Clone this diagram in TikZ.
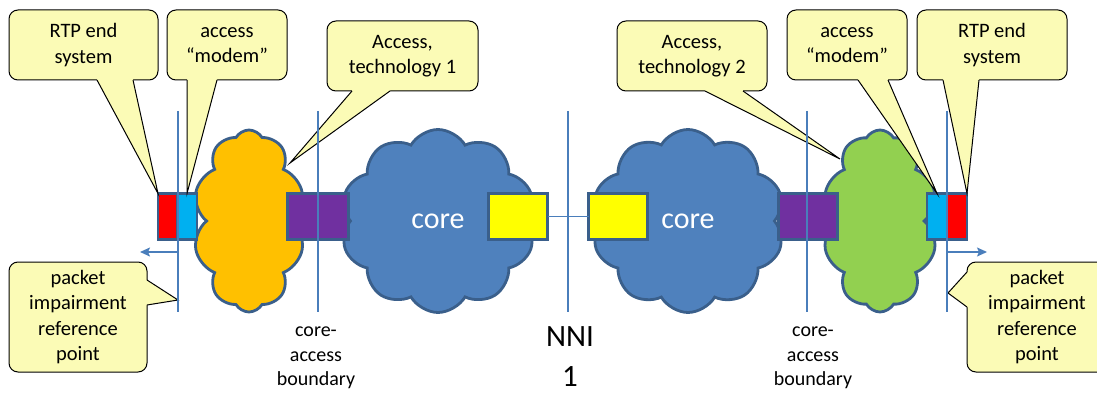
\documentclass[tikz,border=0pt]{standalone}
\usepackage{fontspec}
\setmainfont{Carlito}
\usetikzlibrary{shapes.symbols,arrows.meta,calc}

\definecolor{callfill}{HTML}{FBFBB6}
\definecolor{edgeblue}{HTML}{3A5F8B}
\definecolor{lineblue}{HTML}{4A7EBB}
\definecolor{coreblue}{HTML}{4F81BD}
\definecolor{accorange}{HTML}{FFC000}
\definecolor{accgreen}{HTML}{92D050}
\definecolor{rtpred}{HTML}{FF0000}
\definecolor{modemcyan}{HTML}{00B0F0}
\definecolor{edgepurple}{HTML}{7030A0}
\definecolor{nniyellow}{HTML}{FFFF00}

\tikzset{
  bubble/.style={draw=black, fill=callfill, line width=1pt, rounded corners=9pt,
    outer sep=0pt, inner sep=0pt, align=center, font=\fontsize{20.5}{25.5}\selectfont},
  tailline/.style={black, line width=1pt},
  net/.style={cloud, cloud puffs=10, cloud puff arc=120, cloud ignores aspect,
    draw=edgeblue, line width=2.8pt, inner sep=0pt, outer sep=0pt},
  port/.style={draw=edgeblue, line width=2.8pt, minimum height=46pt, inner sep=0pt, outer sep=0pt},
  refline/.style={lineblue, line width=1.6pt},
  lbl/.style={align=center, inner sep=0pt},
}

% callout tail: base a, base b, tip, inward shift
\newcommand{\tail}[4]{%
  \fill[callfill] ($#1+#4$) -- #1 -- #3 -- #2 -- ($#2+#4$) -- cycle;
  \draw[tailline] #1 -- #3 -- #2;}

\begin{document}
\begin{tikzpicture}[x=1pt, y=-1pt]
  \clip (0,0) rectangle (1097,393);

  % clouds
  \node[net, fill=accorange, minimum width=112pt, minimum height=182pt] (acc1) at (249,221) {};
  \node[net, fill=coreblue, minimum width=195pt, minimum height=183pt, text=white,
    font=\fontsize{30}{36}\selectfont] (core1) at (438,221) {core};
  \node[net, fill=coreblue, minimum width=193pt, minimum height=183pt, text=white,
    font=\fontsize{30}{36}\selectfont] (core2) at (688,221) {core};
  \node[net, fill=accgreen, minimum width=115pt, minimum height=182pt] (acc2) at (880,221) {};

  % boxes
  \node[port, fill=rtpred, minimum width=19pt] (rtpboxL) at (167.5,216.5) {};
  \node[port, fill=modemcyan, minimum width=20pt] (modemboxL) at (187,216.5) {};
  \node[port, fill=edgepurple, minimum width=61pt] (edgeboxL) at (318,216.5) {};
  \node[port, fill=nniyellow, minimum width=59pt] (nniboxL) at (518,216.5) {};
  \node[port, fill=nniyellow, minimum width=59pt] (nniboxR) at (618,216.5) {};
  \node[port, fill=edgepurple, minimum width=59pt] (edgeboxR) at (808,216.5) {};
  \node[port, fill=modemcyan, minimum width=20pt] (modemboxR) at (937,216.5) {};
  \node[port, fill=rtpred, minimum width=20pt] (rtpboxR) at (957,216.5) {};
  \draw[refline] (nniboxL.east) -- (nniboxR.west);

  % callouts
  \node[bubble, minimum width=149pt, minimum height=70pt] (rtpL) at (83.5,45) {RTP end\\system};
  \node[bubble, minimum width=120pt, minimum height=70pt] (modemL) at (227,45) {access\\“modem”};
  \node[bubble, minimum width=151pt, minimum height=70pt] (techL) at (402.5,56) {Access,\\technology 1};
  \node[bubble, minimum width=138pt, minimum height=110pt] (pirL) at (78,317) {packet\\impairment\\reference\\point};
  \node[bubble, minimum width=150pt, minimum height=70pt] (techR) at (692,56) {Access,\\technology 2};
  \node[bubble, minimum width=120pt, minimum height=70pt] (modemR) at (847,45) {access\\“modem”};
  \node[bubble, minimum width=150pt, minimum height=70pt] (rtpR) at (992,45) {RTP end\\system};
  \node[bubble, minimum width=140pt, minimum height=110pt] (pirR) at (1037,317) {packet\\impairment\\reference\\point};

  \coordinate (rtpLa) at ([xshift=88pt]rtpL.south west);
  \coordinate (rtpLb) at ([xshift=124pt]rtpL.south west);
  \coordinate (modemLa) at ([xshift=20pt]modemL.south west);
  \coordinate (modemLb) at ([xshift=50pt]modemL.south west);
  \coordinate (techLa) at ([xshift=25pt]techL.south west);
  \coordinate (techLb) at ([xshift=63pt]techL.south west);
  \coordinate (techLtip) at (290,163);
  \coordinate (pirLa) at ([yshift=-18pt]pirL.north east);
  \coordinate (pirLb) at ([yshift=-43pt]pirL.north east);
  \coordinate (pirLtip) at (178,300);
  \coordinate (techRa) at ([xshift=88pt]techR.south west);
  \coordinate (techRb) at ([xshift=126pt]techR.south west);
  \coordinate (techRtip) at (840,159);
  \coordinate (modemRa) at ([xshift=71pt]modemR.south west);
  \coordinate (modemRb) at ([xshift=101pt]modemR.south west);
  \coordinate (rtpRa) at ([xshift=26pt]rtpR.south west);
  \coordinate (rtpRb) at ([xshift=62pt]rtpR.south west);
  \coordinate (pirRa) at ([yshift=-10pt]pirR.north west);
  \coordinate (pirRb) at ([yshift=-45pt]pirR.north west);
  \coordinate (pirRtip) at (948,293);

  \tail{(rtpLa)}{(rtpLb)}{(rtpboxL.north west)}{(0,-2)}
  \tail{(modemLa)}{(modemLb)}{(modemboxL.north)}{(0,-2)}
  \tail{(techLa)}{(techLb)}{(techLtip)}{(0,-2)}
  \tail{(pirLa)}{(pirLb)}{(pirLtip)}{(-2,0)}
  \tail{(techRa)}{(techRb)}{(techRtip)}{(0,-2)}
  \tail{(modemRa)}{(modemRb)}{(modemboxR.north)}{(0,-2)}
  \tail{(rtpRa)}{(rtpRb)}{(rtpboxR.north east)}{(0,-2)}
  \tail{(pirRa)}{(pirRb)}{(pirRtip)}{(2,0)}

  % reference lines
  \coordinate (refLt) at (178,111);  \coordinate (refLb) at (178,312);
  \coordinate (caLt) at (318,111);   \coordinate (caLb) at (318,312);
  \coordinate (nnit) at (568,111);   \coordinate (nnib) at (568,312);
  \coordinate (caRt) at (807,111);   \coordinate (caRb) at (807,312);
  \coordinate (refRt) at (947,111);  \coordinate (refRb) at (947,312);
  \draw[refline] (refLt) -- (refLb);
  \draw[refline] (caLt) -- (caLb);
  \draw[refline] (nnit) -- (nnib);
  \draw[refline] (caRt) -- (caRb);
  \draw[refline] (refRt) -- (refRb);

  \coordinate (arrL) at (178,252);  \coordinate (arrLend) at (140,252);
  \coordinate (arrR) at (947,252);  \coordinate (arrRend) at (987,252);
  \draw[refline, -{Stealth[length=10pt,width=9pt,inset=2pt]}] (arrL) -- (arrLend);
  \draw[refline, -{Stealth[length=10pt,width=9pt,inset=2pt]}] (arrR) -- (arrRend);

  % labels
  \node[lbl, font=\fontsize{20}{24.5}\selectfont] (caLtext) at (316,358) {core-\\access\\boundary};
  \node[lbl, font=\fontsize{20}{24.5}\selectfont] (caRtext) at (813,358) {core-\\access\\boundary};
  \node[lbl, font=\fontsize{31}{40}\selectfont] (nnitext) at (570,357) {NNI\\1};
\end{tikzpicture}
\end{document}
